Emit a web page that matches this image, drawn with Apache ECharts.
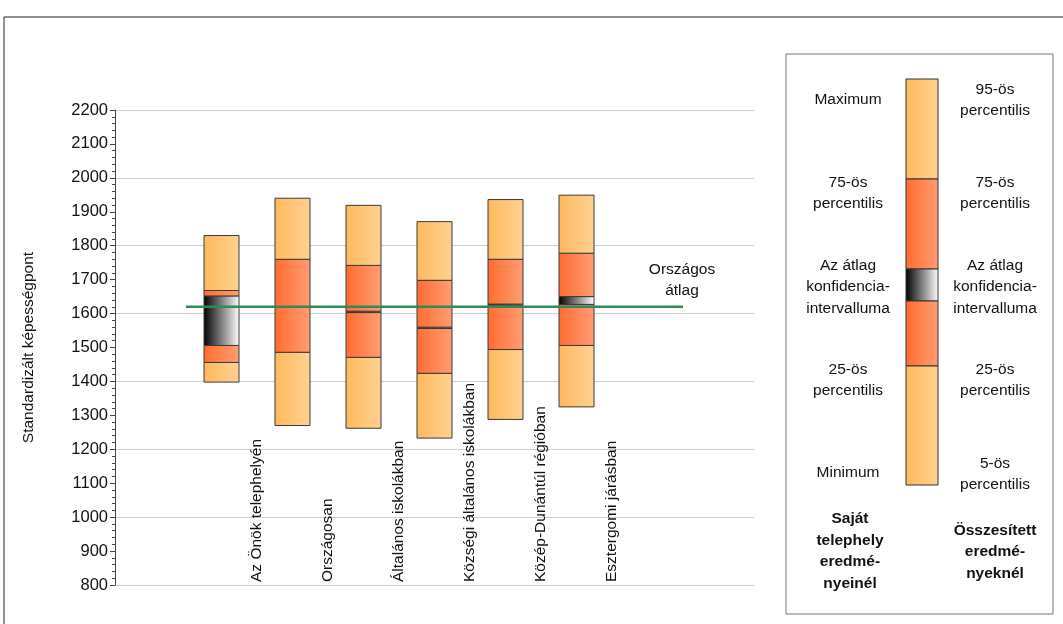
<!DOCTYPE html>
<html><head><meta charset="utf-8">
<script src="https://cdn.jsdelivr.net/npm/echarts@6/dist/echarts.min.js"></script>
<style>html,body{margin:0;padding:0;background:#fff}#c{width:1063px;height:624px}</style>
</head><body><div id="c"></div>
<script>
var categories = ['Az Önök telephelyén','Országosan','Általános iskolákban','Községi általános iskolákban','Közép-Dunántúl régióban','Esztergomi járásban'];
var minVals  = [1398,1270,1262,1233,1288,1325];
var p25Vals  = [1456,1486,1471,1424,1494,1506];
var ciLow    = [1506,1620,1603,1556,1625,1627];
var ciHigh   = [1652,1620,1607,1560,1628,1650];
var p75Vals  = [1668,1760,1742,1698,1760,1778];
var maxVals  = [1830,1940,1919,1871,1936,1949];
var nationalAvg = 1620;
var yTicks = [800,2200,100];

var F = 'Liberation Sans, Arial, sans-serif';
function grad(a,b){return new echarts.graphic.LinearGradient(0,0,1,0,[{offset:0,color:a},{offset:1,color:b}]);}
var LIGHT=['#FDB95C','#FED293'], ORG=['#FF6B30','#FF9E74'], CI=['#000000','#ffffff'];

var data = categories.map(function(c,i){return [i,minVals[i],p25Vals[i],ciLow[i],ciHigh[i],p75Vals[i],maxVals[i]];});

var chart = echarts.init(document.getElementById('c'));
function seg(api,x,w,a,b,col){
  var p1=api.coord([x,b]), p2=api.coord([x,a]);
  return {type:'rect',shape:{x:p1[0]-w/2,y:p1[1],width:w,height:p2[1]-p1[1]},
    style:{fill:grad(col[0],col[1]),stroke:'#3a3a3a',lineWidth:1}};
}
function T(x,y,txt,bold){return {type:'text',x:x,y:y,style:{text:txt,font:(bold?'bold ':'')+'15.5px '+F,fill:'#111',align:'center',verticalAlign:'middle',lineHeight:21.5}};}
chart.setOption({
  animation:false,
  grid:{left:115,right:309,top:110,bottom:39},
  xAxis:{type:'value',min:-1.5,max:7.5,show:false},
  yAxis:[{type:'value',min:yTicks[0],max:yTicks[1],interval:yTicks[2],
    axisLine:{show:true,onZero:false,lineStyle:{color:'#444'}},
    axisTick:{show:true,length:5,lineStyle:{color:'#444'}},
    minorTick:{show:true,splitNumber:5,length:3,lineStyle:{color:'#444'}},
    splitLine:{show:false},
    axisLabel:{color:'#111',fontSize:16.5,fontFamily:F,margin:7,formatter:function(v){return String(v);}},
    name:'Standardizált képességpont',nameLocation:'middle',nameGap:78,nameRotate:90,
    nameTextStyle:{color:'#111',fontSize:15.5,fontFamily:F}},
   {type:'value',min:800,max:2200,interval:200,position:'left',axisLine:{show:false,onZero:false},axisTick:{show:false},axisLabel:{show:false},
    splitLine:{show:true,lineStyle:{color:'#cfcfcf',width:1}}}],
  graphic:[
    {type:'rect',shape:{x:4,y:17,width:1062,height:610},style:{fill:'none',stroke:'#222',lineWidth:1},silent:true},
    {type:'rect',shape:{x:786,y:54,width:267,height:560},style:{fill:'none',stroke:'#777',lineWidth:1}},
    {type:'rect',shape:{x:906,y:79,width:32,height:100},style:{fill:grad(LIGHT[0],LIGHT[1]),stroke:'#333'}},
    {type:'rect',shape:{x:906,y:179,width:32,height:90},style:{fill:grad(ORG[0],ORG[1]),stroke:'#333'}},
    {type:'rect',shape:{x:906,y:269,width:32,height:32},style:{fill:grad(CI[0],CI[1]),stroke:'#333'}},
    {type:'rect',shape:{x:906,y:301,width:32,height:65},style:{fill:grad(ORG[0],ORG[1]),stroke:'#333'}},
    {type:'rect',shape:{x:906,y:366,width:32,height:119},style:{fill:grad(LIGHT[0],LIGHT[1]),stroke:'#333'}},
    T(848,100,'Maximum'),
    T(848,193,'75-ös\npercentilis'),
    T(848,287,'Az átlag\nkonfidencia-\nintervalluma'),
    T(848,380,'25-ös\npercentilis'),
    T(848,473,'Minimum'),
    T(850,551,'Saját\ntelephely\neredmé-\nnyeinél',true),
    T(995,100,'95-ös\npercentilis'),
    T(995,193,'75-ös\npercentilis'),
    T(995,287,'Az átlag\nkonfidencia-\nintervalluma'),
    T(995,380,'25-ös\npercentilis'),
    T(995,474,'5-ös\npercentilis'),
    T(995,552,'Összesített\neredmé-\nnyeknél',true),
    T(682,280,'Országos\nátlag')
  ],
  series:[
    {type:'custom',data:data,clip:false,renderItem:function(params,api){
      var i=api.value(0), w=35;
      var v=[api.value(1),api.value(2),api.value(3),api.value(4),api.value(5),api.value(6)];
      var ch=[seg(api,i,w,v[0],v[1],LIGHT),seg(api,i,w,v[1],v[2],ORG)];
      if(v[3]>v[2]) ch.push(seg(api,i,w,v[2],v[3],CI));
      ch.push(seg(api,i,w,v[3],v[4],ORG),seg(api,i,w,v[4],v[5],LIGHT));
      var b=api.coord([i+0.49,800]);
      ch.push({type:'text',x:b[0],y:b[1]-3,rotation:Math.PI/2,style:{text:categories[i],font:'15.5px '+F,fill:'#111',align:'left',verticalAlign:'middle'}});
      return {type:'group',children:ch};
    }},
    {type:'line',data:[[-0.5,nationalAvg],[6.5,nationalAvg]],symbol:'none',z:5,lineStyle:{color:'#2E8B57',width:2.5}}
  ]
});
</script></body></html>
